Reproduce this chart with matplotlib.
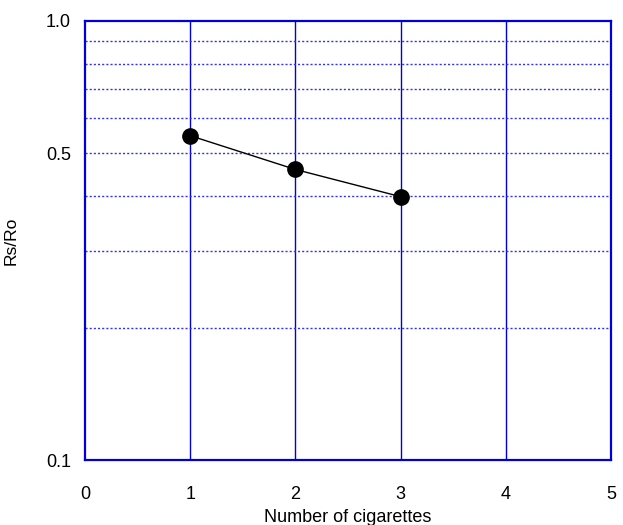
import matplotlib
matplotlib.use('Agg')
import matplotlib.pyplot as plt
from matplotlib.ticker import FixedLocator, NullFormatter

# data
cigarettes = [1, 2, 3]
rs_ro = [0.548, 0.459, 0.398]

ytick_vals = [0.1, 0.5, 1.0]
ytick_labels = ['0.1', '0.5', '1.0']
ygrid_vals = [0.2, 0.3, 0.4, 0.5, 0.6, 0.7, 0.8, 0.9]
xtick_vals = [0, 1, 2, 3, 4, 5]

plt.rcParams['font.family'] = ['Liberation Sans', 'DejaVu Sans']

fig = plt.figure(figsize=(6.23, 5.25), dpi=100)
ax = fig.add_axes([0.1364, 0.1238, 0.8443, 0.8362])

ax.set_yscale('log')
ax.set_xlim(0, 5)
ax.set_ylim(0.1, 1.0)

# grid
for xv in xtick_vals[1:-1]:
    ax.axvline(xv, color='#0000dd', lw=1.0, zorder=1)
for yv in ygrid_vals:
    ax.axhline(yv, color='#3333ee', lw=1.0, ls=(0, (1.5, 1.5)), zorder=1)

ax.plot(cigarettes, rs_ro, color='black', lw=1.0, marker='o',
        markersize=11, markerfacecolor='black', zorder=3)

ax.xaxis.set_major_locator(FixedLocator(xtick_vals))
ax.set_xticklabels([str(v) for v in xtick_vals])
ax.yaxis.set_major_locator(FixedLocator(ytick_vals))
ax.set_yticklabels(ytick_labels)
ax.yaxis.set_minor_locator(FixedLocator([]))
ax.yaxis.set_minor_formatter(NullFormatter())
ax.tick_params(axis='both', length=0, labelsize=13)
ax.tick_params(axis='x', pad=19)
ax.tick_params(axis='y', pad=10)

for sp in ax.spines.values():
    sp.set_color('#0000dd')
    sp.set_linewidth(1.6)

ax.set_xlabel('Number of cigarettes', fontsize=13, labelpad=4)
ax.set_ylabel('Rs/Ro', fontsize=12.5)
ax.yaxis.set_label_coords(-0.127, 0.5)

plt.savefig('out.png', dpi=100)
